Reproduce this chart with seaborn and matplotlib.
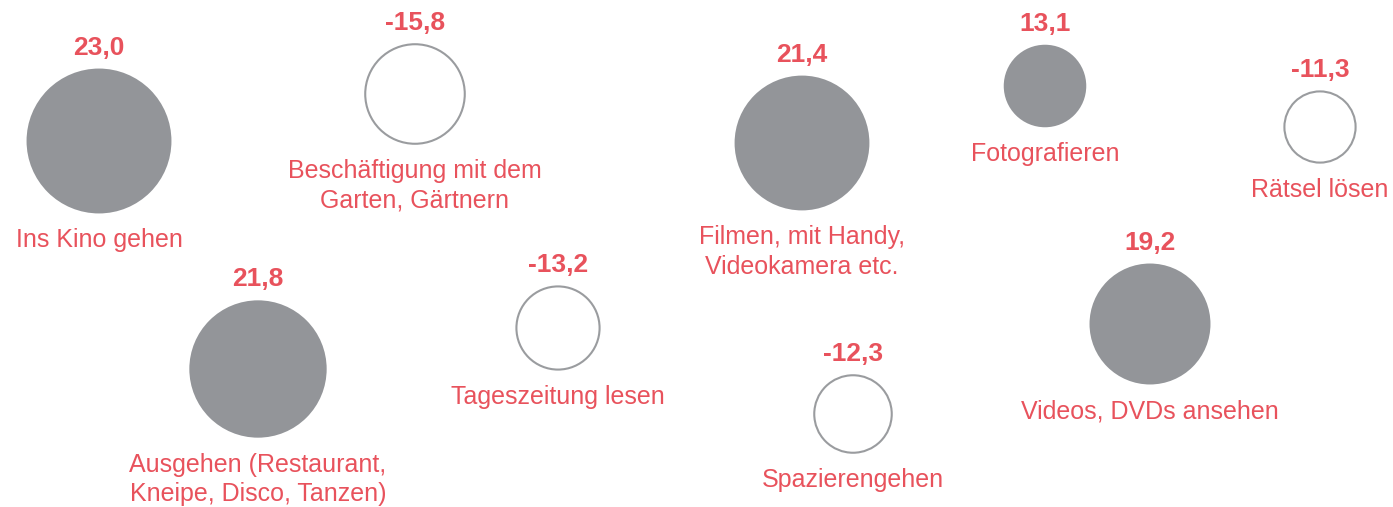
import numpy as np
import pandas as pd
import seaborn as sns
import matplotlib
matplotlib.use("Agg")
import matplotlib.pyplot as plt

# Data
labels = [
    "Ins Kino gehen",
    "Beschäftigung mit dem\nGarten, Gärtnern",
    "Filmen, mit Handy,\nVideokamera etc.",
    "Fotografieren",
    "Rätsel lösen",
    "Ausgehen (Restaurant,\nKneipe, Disco, Tanzen)",
    "Tageszeitung lesen",
    "Spazierengehen",
    "Videos, DVDs ansehen",
]
values = [23.0, -15.8, 21.4, 13.1, -11.3, 21.8, -13.2, -12.3, 19.2]
# bubble layout (pixel positions on the canvas)
x_pos = [99, 415, 802, 1045, 1320, 258, 558, 853, 1150]
y_pos = [141, 94, 143, 86, 127, 369, 328, 414, 324]

red = "#e8525c"
grey = "#939599"
px_per_unit = 6.3  # bubble diameter in px per value unit

df = pd.DataFrame({"label": labels, "value": values, "x": x_pos, "y": y_pos})
df["diam"] = df["value"].abs() * px_per_unit
df["area"] = (df["diam"] * 0.72) ** 2  # marker size in pt^2 at dpi 100
smin, smax = df["area"].min(), df["area"].max()

sns.set_theme(style="white")
plt.rcParams["font.family"] = ["Liberation Sans", "DejaVu Sans"]

fig = plt.figure(figsize=(13.93, 5.07), dpi=100)
ax = fig.add_axes([0, 0, 1, 1])

pos = df[df["value"] > 0]
neg = df[df["value"] < 0]
sns.scatterplot(data=pos, x="x", y="y", size="area", sizes=(smin, smax),
                size_norm=(smin, smax), color=grey, linewidth=0,
                legend=False, ax=ax)
sns.scatterplot(data=neg, x="x", y="y", size="area", sizes=(smin, smax),
                size_norm=(smin, smax), color="white", edgecolor="#9a9c9f",
                linewidth=1.5, legend=False, ax=ax)

for _, row in df.iterrows():
    r = row["diam"] / 2
    val_txt = f"{row['value']:.1f}".replace(".", ",")
    ax.text(row["x"], row["y"] - r - 21, val_txt, ha="center", va="center",
            color=red, fontsize=19, fontweight="bold")
    ax.text(row["x"], row["y"] + r + 15, row["label"], ha="center", va="top",
            multialignment="center", color=red, fontsize=18, linespacing=1.28)

ax.set_xlim(0, 1393)
ax.set_ylim(507, 0)
ax.axis("off")

fig.savefig("out.png", dpi=100, facecolor="white")
